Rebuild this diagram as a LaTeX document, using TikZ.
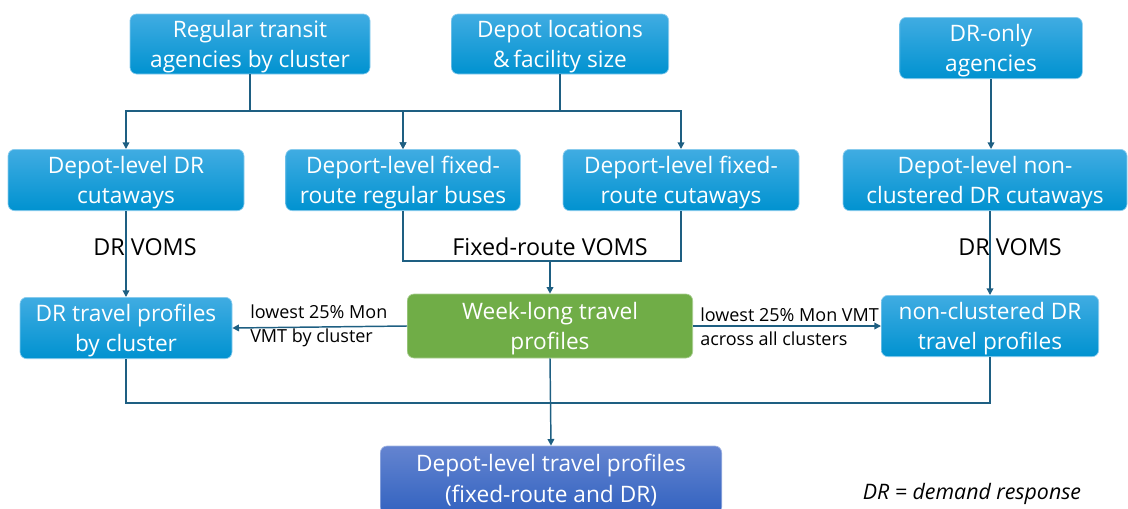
\documentclass[tikz,border=0pt]{standalone}
\usepackage{fontspec}
\setmainfont{Open Sans}
\usetikzlibrary{arrows.meta}
\definecolor{boxtop}{RGB}{64,172,226}
\definecolor{boxbot}{RGB}{0,146,208}
\definecolor{greenbox}{RGB}{112,173,71}
\definecolor{bluetop}{RGB}{100,132,208}
\definecolor{bluebot}{RGB}{50,98,192}
\definecolor{conn}{RGB}{30,95,130}
\newcommand{\tstrut}{\rule{0pt}{17pt}}
\tikzset{
  bx/.style={rounded corners=5pt, top color=boxtop, bottom color=boxbot, draw=boxtop!60!white, line width=0.5pt,
    text=white, align=center, font=\fontsize{17}{23}\selectfont, inner sep=0pt, minimum height=45pt},
  gbx/.style={bx, top color=greenbox, bottom color=greenbox, draw=greenbox!60!white},
  bbx/.style={bx, top color=bluetop, bottom color=bluebot, draw=bluetop!60!white},
  ln/.style={draw=conn, line width=1.1pt},
  arr/.style={ln, -{Triangle[length=5pt,width=5pt]}},
  lab/.style={text=black, font=\fontsize{17.5}{20}\selectfont, inner sep=0pt},
  slab/.style={text=black, font=\fontsize{13.5}{18}\selectfont, inner sep=0pt, align=left, anchor=west},
}
\begin{document}
\begin{tikzpicture}[x=0.75pt,y=-0.75pt]
\useasboundingbox (0,0) rectangle (1128,508);
\clip (0,0) rectangle (1128,508);
% boxes
\node[bx, minimum width=180pt] (RT) at (250,44) {\tstrut Regular transit\\agencies by cluster};
\node[bx, minimum width=163pt] (DL) at (560,44) {\tstrut Depot locations\\\&\,facility size};
\node[bx, minimum width=137pt, minimum height=46pt] (DRO) at (991,48) {\tstrut DR-only\\agencies};
\node[bx, minimum width=177pt, minimum height=46pt] (DRC) at (126,180) {\tstrut Depot-level DR\\cutaways};
\node[bx, minimum width=176pt, minimum height=46pt] (FRB) at (403,180) {\tstrut Deport-level fixed-\\route regular buses};
\node[bx, minimum width=177pt, minimum height=46pt] (FRC) at (681,180) {\tstrut Deport-level fixed-\\route cutaways};
\node[bx, minimum width=213pt, minimum height=46pt] (NCC) at (985,180) {\tstrut Depot-level non-\\clustered DR cutaways};
\node[bx, minimum width=159pt, minimum height=46pt] (DRP) at (126,328) {\tstrut DR travel profiles\\by cluster};
\node[gbx, minimum width=214pt, minimum height=48pt] (WL) at (550,326) {\tstrut Week-long travel\\profiles};
\node[bx, minimum width=163pt, minimum height=46pt] (NCP) at (990,326) {\tstrut non-clustered DR\\travel profiles};
\node[bbx, minimum width=256pt, minimum height=51pt] (DLP) at (551,480) {Depot-level travel profiles\\(fixed-route and DR)};
% helper levels
\coordinate (h1) at (0,111);
\coordinate (h2) at (0,261);
\coordinate (h3) at (0,403);
% top connectors
\draw[arr] (RT.south) -- (RT.south |- h1) -| (DRC.north);
\draw[arr] (RT.south |- h1) -| (FRB.north);
\draw[arr] (DL.south) -- (DL.south |- h1) -| (FRC.north);
\draw[arr] (DL.south |- h1) -| (FRB.north);
\draw[arr] (DRO.south) -- (DRO.south |- NCC.north);
% VOMS connectors
\draw[arr] (DRC.south) -- (DRP.north);
\draw[arr] (NCC.south -| NCP.north) -- (NCP.north);
\draw[ln] (FRB.south) -- (FRB.south |- h2) -| (FRC.south);
\draw[arr] (WL.north |- h2) -- (WL.north);
% side arrows
\draw[arr] (WL.west) -- (DRP.east);
\draw[arr] (WL.east) -- (NCP.west);
% bottom connectors
\draw[ln] (DRP.south) -- (DRP.south |- h3) -| (NCP.south);
\draw[arr] (WL.south) -- (DLP.north);
% labels
\node[lab] (l1) at (145,247) {DR VOMS};
\node[lab] (l2) at (550,247) {Fixed-route VOMS};
\node[lab] (l3) at (1010,247) {DR VOMS};
\node[slab] (l4) at (250,326) {lowest 25\% Mon\\VMT by cluster};
\node[slab] (l5) at (700,327) {lowest 25\% Mon VMT\\across all clusters};
\node[lab, font=\fontsize{16}{18}\selectfont\itshape] (l6) at (972,494) {DR = demand response};
\end{tikzpicture}
\end{document}
